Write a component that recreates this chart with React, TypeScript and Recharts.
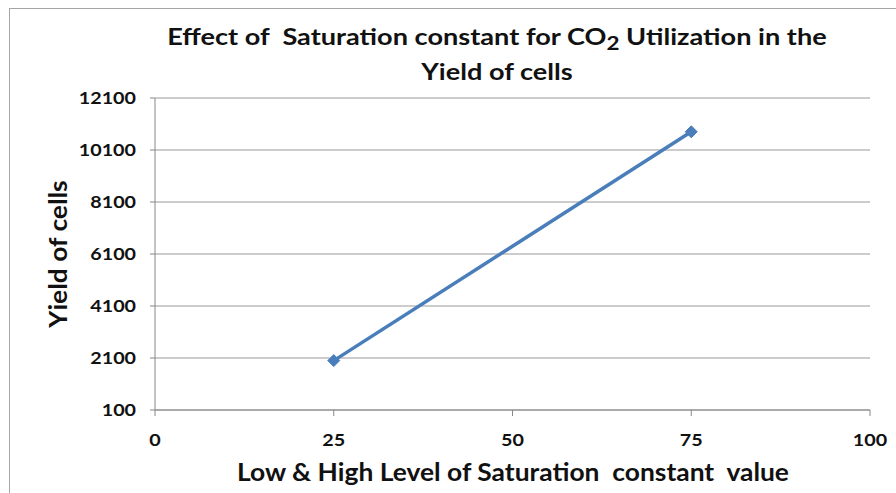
import React from "react";
import { LineChart, Line, XAxis, YAxis, CartesianGrid } from "recharts";

const saturationValues = [25, 75];
const yieldValues = [2000, 10800];
const xTicks = [0, 25, 50, 75, 100];
const yTicks = [100, 2100, 4100, 6100, 8100, 10100, 12100];

const data = saturationValues.map((x, i) => ({ x, y: yieldValues[i] }));

const FONT = "Lato, 'Open Sans', sans-serif";
const BLUE = "#4a7ebb";

const Diamond = (props: any) => {
  const { cx, cy } = props;
  if (cx == null || cy == null) return null;
  const r = 6;
  return (
    <path
      d={`M${cx},${cy - r} L${cx + r},${cy} L${cx},${cy + r} L${cx - r},${cy} Z`}
      fill={BLUE}
      stroke={BLUE}
    />
  );
};

// tick text, a bit wider than the font draws it
const WideTick = (props: any) => {
  const { x, y, payload, textAnchor, verticalAnchor } = props;
  const dy = verticalAnchor === "start" ? "0.71em" : "0.355em";
  return (
    <text
      transform={`translate(${x},${y}) scale(1.16,1)`}
      textAnchor={textAnchor}
      dy={dy}
      fill="#111"
      fontSize={17}
      fontWeight={700}
      fontFamily={FONT}
    >
      {payload.value}
    </text>
  );
};

export default function App() {
  return (
    <div style={{ position: "absolute", left: 0, top: 0, width: 896, height: 493, background: "#fff", overflow: "hidden", fontFamily: FONT }}>
      <div style={{ position: "absolute", left: 9, top: 8, width: 1000, height: 600, borderLeft: "1.5px solid #a6a6a6", borderTop: "1.5px solid #a6a6a6" }} />
      <div
        style={{
          position: "absolute",
          left: 0,
          top: 19,
          width: 994,
          textAlign: "center",
          fontWeight: 700,
          fontSize: 23,
          lineHeight: "35px",
          color: "#111",
          transform: "scaleX(1.18)",
          transformOrigin: "497px 0",
        }}
      >
        Effect of&nbsp; Saturation constant for CO<sub style={{ fontSize: 19, verticalAlign: -5, lineHeight: 0 }}>2</sub> Utilization in the
        <br />
        Yield of cells
      </div>
      <LineChart
        width={896}
        height={493}
        data={data}
        margin={{ top: 98, right: 26, left: 95, bottom: 53 }}
        style={{ position: "absolute", left: 0, top: 0 }}
      >
        <CartesianGrid vertical={false} stroke="#999" strokeWidth={1.2} />
        <XAxis
          dataKey="x"
          type="number"
          domain={[0, 100]}
          ticks={xTicks}
          height={30}
          tickSize={6}
          tickMargin={18}
          stroke="#888"
          tick={<WideTick />}
        />
        <YAxis
          type="number"
          domain={[100, 12100]}
          ticks={yTicks}
          width={60}
          tickSize={5}
          tickMargin={14}
          stroke="#888"
          tick={<WideTick />}
        />
        <Line
          dataKey="y"
          stroke={BLUE}
          strokeWidth={3.5}
          dot={<Diamond />}
          activeDot={false}
          isAnimationActive={false}
        />
      </LineChart>
      <div
        style={{
          position: "absolute",
          left: 0,
          top: 457,
          width: 1026,
          textAlign: "center",
          fontWeight: 700,
          fontSize: 24,
          color: "#111",
          transform: "scaleX(1.1)",
          transformOrigin: "513px 0",
        }}
      >
        Low &amp; High Level of Saturation&nbsp; constant&nbsp; value
      </div>
      <div
        style={{
          position: "absolute",
          left: 57,
          top: 254,
          transform: "translate(-50%, -50%) rotate(-90deg) scaleX(1.1)",
          whiteSpace: "nowrap",
          fontWeight: 700,
          fontSize: 24,
          color: "#111",
        }}
      >
        Yield of cells
      </div>
    </div>
  );
}
